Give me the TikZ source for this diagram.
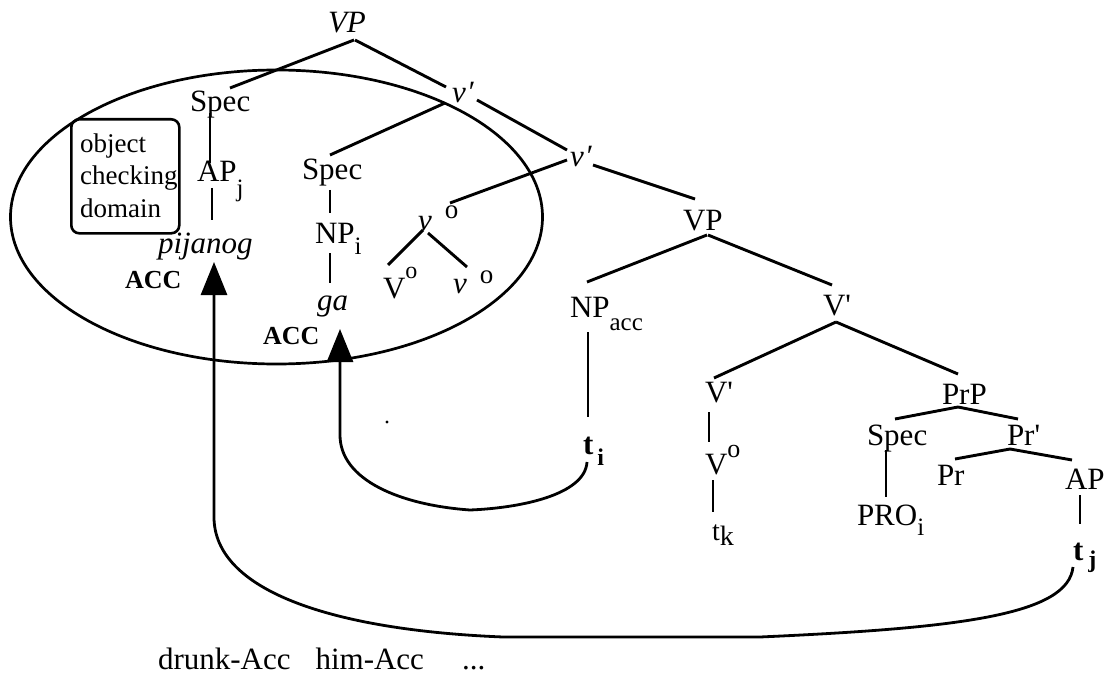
\documentclass[tikz,border=0pt]{standalone}
\usepackage{fontspec}
\setmainfont{Liberation Serif}
\usetikzlibrary{calc,arrows.meta}
\newcommand\sbs[2][12]{\raisebox{-#1pt}{\fontsize{25}{25}\selectfont #2}}
\newcommand\supo[2][20]{\raisebox{#1pt}{\fontsize{#2}{#2}\selectfont o}}
\begin{document}
\begin{tikzpicture}[x=1pt,y=-1pt,
  lbl/.style={inner sep=0pt, outer sep=0pt, anchor=base west, font=\fontsize{31}{37}\selectfont},
  acc/.style={lbl, font=\fontsize{26}{30}\selectfont\bfseries},
  br/.style={line width=2.9pt},
  mv/.style={line width=2.8pt, -{Triangle[length=33pt,width=26pt]}},
  ring/.style={line width=2.7pt}]
\useasboundingbox (0,0) rectangle (1109,674);

% ellipse and box
\draw[ring] (276.5,217) ellipse [x radius=266pt, y radius=147pt];
\node[draw, line width=2.6pt, rounded corners=8pt, inner sep=0pt, minimum width=108pt, minimum height=114pt, anchor=north west] (box) at (70,118) {};
\node[inner sep=0pt, anchor=west, align=left, font=\fontsize{27}{32.5}\selectfont] (boxtxt) at ($(box.west)+(10,-1)$) {object\\checking\\domain};

% nodes
\node[lbl] (VP) at (328,33) {\textit{VP}};
\node[lbl] (specA) at (190,112) {Spec};
\node[lbl] (APj) at (197,182) {AP\sbs[15]{j}};
\node[lbl] (pij) at (158,253) {\textit{pijanog}};
\node[acc] (accA) at (125,288) {ACC};
\node[lbl] (specB) at (302,180) {Spec};
\node[lbl] (NPi) at (315,243) {NP\sbs[12]{i}};
\node[lbl] (ga) at (317,310) {\textit{ga}};
\node[acc] (accB) at (263,344) {ACC};
\node[lbl] (vbarA) at (452,103) {\textit{v\kern1pt\symbol{"2032}}};
\node[lbl] (vbarB) at (570,167) {\textit{v\kern1pt\symbol{"2032}}};
\node[lbl] (vo) at (418,230) {\textit{v}\hspace{13pt}\supo[12]{27}};
\node[lbl] (Vo) at (383,298) {V\supo[20]{24}};
\node[lbl] (vob) at (453,293) {\textit{v}\hspace{13pt}\supo[10]{27}};
\node[lbl] (VPb) at (683,230) {VP};
\node[lbl] (NPacc) at (570,317) {NP\sbs[13]{acc}};
\node[lbl] (Vbar) at (823,315) {V\textquotesingle};
\node[lbl] (ti) at (583,454) {\textbf{t}\kern4pt\raisebox{-11pt}{\fontsize{24}{24}\selectfont\textbf{i}}};
\node[lbl] (Vbars) at (705,402) {V\textquotesingle};
\node[lbl] (Vob) at (705,474) {V\supo[17]{26}};
\node[lbl, font=\fontsize{28}{32}\selectfont] (tk) at (712,540) {t\raisebox{-5pt}{k}};
\node[lbl] (PrP) at (942,404) {PrP};
\node[lbl] (specC) at (867,445) {Spec};
\node[lbl] (Prbar) at (1007,445) {Pr\textquotesingle};
\node[lbl] (Pr) at (937,485) {Pr};
\node[lbl] (APc) at (1065,489) {AP};
\node[lbl] (PRO) at (857,525) {PRO\sbs[10]{i}};
\node[lbl] (tj) at (1073,560) {\textbf{t}\kern5pt\raisebox{-7pt}{\fontsize{24}{24}\selectfont\textbf{j}}};
\node[lbl] (gloss) at (158,669) {drunk-Acc\hspace{25pt}him-Acc\hspace{38pt}...};
\fill (387,422) circle (1.6pt);

% branches
\draw[br] ($(VP.base west)+(26,7)$) -- ($(specA.base west)+(40,-24)$);
\draw[br] ($(VP.base west)+(27,7)$) -- ($(vbarA.base west)+(-6,-16)$);
\draw[br] ($(specA.base west)+(20,1)$) -- ($(APj.base west)+(13,-19)$);
\draw[br] ($(APj.base west)+(15,6)$) -- ($(pij.base west)+(54,-33)$);
\draw[br] ($(vbarA.base west)+(-7,0)$) -- ($(specB.base west)+(28,-25)$);
\draw[br] ($(vbarA.base west)+(25,-3)$) -- ($(vbarB.base west)+(-3,-17)$);
\draw[br] ($(specB.base west)+(28,10)$) -- ($(NPi.base west)+(15,-30)$);
\draw[br] ($(NPi.base west)+(15,10)$) -- ($(ga.base west)+(13,-27)$);
\draw[br] ($(vbarB.base west)+(-3,-7)$) -- ($(vo.base west)+(32,-27)$);
\draw[br] ($(vbarB.base west)+(23,-2)$) -- ($(VPb.base west)+(12,-31)$);
\draw[br] ($(vo.base west)+(5,0)$) -- ($(Vo.base west)+(5,-33)$);
\draw[br] ($(vo.base west)+(10,3)$) -- ($(vob.base west)+(14,-26)$);
\draw[br] ($(VPb.base west)+(24,5)$) -- ($(NPacc.base west)+(17,-35)$);
\draw[br] ($(VPb.base west)+(25,5)$) -- ($(Vbar.base west)+(9,-30)$);
\draw[br] ($(NPacc.base west)+(18,15)$) -- ($(ti.base west)+(5,-37)$);
\draw[br] ($(Vbar.base west)+(13,7)$) -- ($(Vbars.base west)+(9,-24)$);
\draw[br] ($(Vbar.base west)+(13,7)$) -- ($(PrP.base west)+(16,-30)$);
\draw[br] ($(Vbars.base west)+(4,10)$) -- ($(Vob.base west)+(4,-32)$);
\draw[br] ($(Vob.base west)+(8,6)$) -- ($(tk.base west)+(1,-28)$);
\draw[br] ($(PrP.base west)+(16,3)$) -- ($(specC.base west)+(28,-26)$);
\draw[br] ($(PrP.base west)+(16,3)$) -- ($(Prbar.base west)+(11,-26)$);
\draw[br] ($(specC.base west)+(19,5)$) -- ($(PRO.base west)+(29,-28)$);
\draw[br] ($(Prbar.base west)+(3,4)$) -- ($(Pr.base west)+(18,-26)$);
\draw[br] ($(Prbar.base west)+(3,4)$) -- ($(APc.base west)+(7,-29)$);
\draw[br] ($(APc.base west)+(15,6)$) -- ($(tj.base west)+(7,-36)$);

% movement arrows
\draw[mv] ($(tj.base west)+(0,7)$) .. controls (1068,615) and (960,628) .. (760,637)
  -- (503,637) .. controls (330,630) and (214,590) .. (214,517)
  -- ($(pij.base west)+(56,9)$);
\draw[mv] ($(ti.base west)+(4,8)$) .. controls (585,495) and (520,508) .. (470,510)
  .. controls (400,505) and (340,480) .. (340,435)
  -- ($(ga.base west)+(23,19)$);
\end{tikzpicture}
\end{document}
